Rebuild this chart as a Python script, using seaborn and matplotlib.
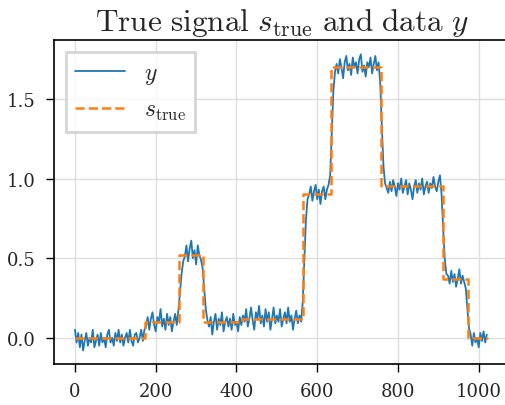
import numpy as np
import matplotlib
matplotlib.use("Agg")
import matplotlib.pyplot as plt
import seaborn as sns

# true piecewise-constant signal: edges and levels
s_edges = [0, 173, 257, 318, 413, 565, 635, 757, 912, 973, 1023]
s_levels = [0.0, 0.1, 0.52, 0.1, 0.12, 0.9, 1.7, 0.95, 0.37, 0.0]

# noisy data, read every 4th sample
y_step = 4
y_data = [
    0.05, -0.03, 0.03, -0.06, 0.02, -0.08, -0.02, 0.03, -0.05, 0.00,
    -0.03, 0.05, -0.06, -0.02, 0.02, -0.05, 0.03, -0.03, 0.00, -0.06,
    0.02, 0.05, -0.03, 0.00, -0.05, 0.03, -0.02, 0.05, -0.03, 0.02,
    -0.05, 0.00, 0.03, -0.03, 0.05, -0.02, -0.05, 0.02, 0.03, -0.03,
    0.00, 0.05, -0.02, 0.05,
    0.07, 0.13, 0.05, 0.12, 0.16, 0.08, 0.04, 0.13, 0.10, 0.18,
    0.07, 0.12, 0.05, 0.15, 0.08, 0.13, 0.04, 0.10, 0.15, 0.08,
    0.17, 0.28, 0.40, 0.48,
    0.51, 0.58, 0.48, 0.56, 0.61, 0.50, 0.55, 0.46, 0.58, 0.52, 0.49,
    0.44, 0.31, 0.18, 0.11,
    0.07, 0.13, 0.02, 0.10, 0.15, 0.05, 0.12, 0.08, 0.16, 0.04,
    0.10, 0.13, 0.07, 0.12, 0.05, 0.15, 0.08, 0.10, 0.04, 0.13, 0.08,
    0.14, 0.10, 0.18, 0.07, 0.12, 0.19, 0.11, 0.05, 0.16, 0.12,
    0.20, 0.09, 0.14, 0.07, 0.18, 0.10, 0.16, 0.05, 0.12, 0.19,
    0.09, 0.14, 0.10, 0.18, 0.07, 0.12, 0.16, 0.09, 0.19, 0.10,
    0.14, 0.05, 0.12, 0.17, 0.09, 0.14, 0.10,
    0.22, 0.48, 0.74, 0.87,
    0.90, 0.95, 0.86, 0.92, 0.96, 0.87, 0.93, 0.84, 0.92, 0.95, 0.87, 0.93, 0.96,
    1.02, 1.28, 1.55, 1.67,
    1.72, 1.66, 1.75, 1.70, 1.63, 1.73, 1.77, 1.68, 1.72, 1.65,
    1.76, 1.70, 1.73, 1.66, 1.75, 1.78, 1.67, 1.71, 1.64, 1.73,
    1.70, 1.76, 1.66, 1.72, 1.77, 1.68, 1.73,
    1.60, 1.33, 1.08, 0.97,
    0.94, 0.91, 0.98, 0.92, 0.99, 0.95, 0.89, 0.97, 0.93, 1.00,
    0.91, 0.95, 0.99, 0.90, 0.97, 0.93, 0.87, 0.95, 0.99, 0.91,
    0.97, 0.93, 1.00, 0.90, 0.95, 0.98, 0.91, 0.97, 0.94, 1.01,
    0.95, 0.92, 0.98, 1.02,
    0.90, 0.68, 0.49, 0.40,
    0.39, 0.34, 0.42, 0.35, 0.40, 0.32, 0.37, 0.43, 0.34, 0.39, 0.35,
    0.31, 0.18, 0.06,
    0.02, -0.05, 0.03, -0.03, 0.00, -0.06, 0.03, -0.02, 0.04, -0.03, 0.02,
]
x_data = np.arange(len(y_data)) * y_step

sns.set_style("ticks", {"axes.grid": True, "grid.color": "#dddddd",
                        "axes.edgecolor": "black"})
plt.rcParams["font.family"] = ["DejaVu Serif"]
plt.rcParams["mathtext.fontset"] = "cm"

fig = plt.figure(figsize=(5.06, 4.06), dpi=100)
ax = fig.add_axes([54 / 506, 41 / 406, 455 / 506, 324 / 406])

sns.lineplot(x=x_data, y=y_data, ax=ax, color="#1f77b4", lw=1.3, label=r"$y$")
sns.lineplot(x=s_edges, y=s_levels + [s_levels[-1]], ax=ax, color="#ff7f0e",
             lw=1.8, ls="--", drawstyle="steps-post", label=r"$s_{\mathrm{true}}$")

ax.set_xlim(-52, 1075)
ax.set_ylim(-0.165, 1.87)
ax.set_xticks([0, 200, 400, 600, 800, 1000])
ax.set_yticks([0.0, 0.5, 1.0, 1.5])
ax.tick_params(labelsize=13, length=6, width=1, pad=7, color="black")
ax.grid(True, color="#dddddd", lw=1)
for sp in ax.spines.values():
    sp.set_color("black")
    sp.set_linewidth(1.2)

ax.set_title(r"$\mathrm{True\ signal}\ s_{\mathrm{true}}\ \mathrm{and\ data}\ y$",
             fontsize=22.5, pad=7)
leg = ax.legend(loc="upper left", fontsize=17, fancybox=False,
                borderpad=0.4, handlelength=2.1, handletextpad=0.8,
                labelspacing=0.5, borderaxespad=0.5)
leg.get_frame().set_edgecolor("#cccccc")
leg.get_frame().set_linewidth(2)

fig.savefig("out.png", dpi=100)
